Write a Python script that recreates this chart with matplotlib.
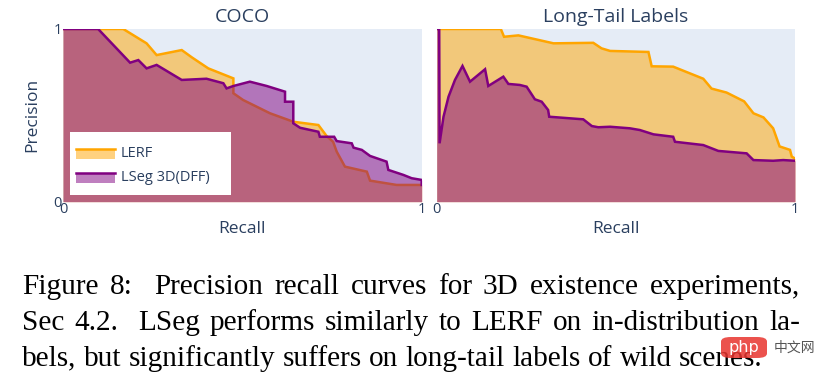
import matplotlib
matplotlib.use("Agg")
import matplotlib.pyplot as plt
from matplotlib.patches import Rectangle, FancyBboxPatch

# ---------------- data ----------------
coco_lerf_recall = [0, 0.168, 0.233, 0.261, 0.331, 0.359, 0.405, 0.475, 0.475, 0.502, 0.577,
                    0.642, 0.712, 0.735, 0.753, 0.763, 0.786, 0.847, 0.856, 0.930, 1.0]
coco_lerf_precision = [1, 1, 0.917, 0.849, 0.878, 0.836, 0.772, 0.714, 0.628, 0.589, 0.512,
                       0.463, 0.444, 0.380, 0.347, 0.29, 0.203, 0.174, 0.122, 0.097, 0.097]

coco_lseg_recall = [0, 0.098, 0.187, 0.21, 0.233, 0.261, 0.331, 0.4, 0.447, 0.456, 0.475, 0.521,
                    0.568, 0.619, 0.619, 0.642, 0.642, 0.661, 0.712, 0.716, 0.756, 0.763, 0.805,
                    0.81, 0.833, 0.856, 0.902, 0.907, 0.949, 0.972, 1.0, 1.0]
coco_lseg_precision = [1, 1, 0.805, 0.82, 0.772, 0.792, 0.705, 0.712, 0.686, 0.656, 0.67, 0.695,
                       0.67, 0.637, 0.579, 0.579, 0.454, 0.428, 0.405, 0.376, 0.376, 0.351, 0.338,
                       0.313, 0.30, 0.265, 0.232, 0.184, 0.155, 0.136, 0.126, 0.097]

lt_lerf_recall = [0, 0.179, 0.188, 0.228, 0.326, 0.437, 0.46, 0.484, 0.591, 0.600, 0.660, 0.744,
                  0.767, 0.809, 0.858, 0.884, 0.912, 0.939, 0.957, 0.986, 0.991, 1.0]
lt_lerf_precision = [1, 1, 0.955, 0.963, 0.917, 0.92, 0.888, 0.873, 0.867, 0.784, 0.782, 0.712,
                     0.655, 0.632, 0.581, 0.512, 0.488, 0.425, 0.32, 0.30, 0.261, 0.25]

lt_lseg_recall = [0, 0.007, 0.008, 0.019, 0.033, 0.051, 0.072, 0.093, 0.135, 0.144, 0.186, 0.2,
                  0.232, 0.251, 0.274, 0.293, 0.311, 0.314, 0.409, 0.433, 0.451, 0.484, 0.539,
                  0.567, 0.605, 0.660, 0.665, 0.744, 0.786, 0.865, 0.884, 0.939, 0.967, 1.0]
lt_lseg_precision = [1, 1, 0.338, 0.492, 0.608, 0.705, 0.786, 0.695, 0.767, 0.67, 0.724, 0.682,
                     0.676, 0.666, 0.593, 0.579, 0.531, 0.492, 0.477, 0.438, 0.431, 0.434, 0.425,
                     0.415, 0.39, 0.376, 0.347, 0.328, 0.294, 0.28, 0.241, 0.237, 0.241, 0.237]

panel_titles = ["COCO", "Long-Tail Labels"]
series_names = ["LERF", "LSeg 3D(DFF)"]
tick_labels = ["0", "1"]
x_label = "Recall"
y_label = "Precision"
caption_lines = [
    "Figure 8:  Precision recall curves for 3D existence experiments,",
    "Sec 4.2.  LSeg performs similarly to LERF on in-distribution la-",
    "bels, but significantly suffers on long-tail labels of wild scenes.",
]

# ---------------- style ----------------
W, H = 824, 381
FONT = "Open Sans"
TXT = "#2a3f5f"
BG = "#E5ECF6"
ORANGE = "#FFA500"
PURPLE = "#800080"
SERIF = "Liberation Serif"

fig = plt.figure(figsize=(W / 100, H / 100), dpi=100)
fig.patch.set_facecolor("white")


def fx(px):
    return px / W


def fy(py):
    return 1 - py / H


ax_l = fig.add_axes([fx(63), fy(201.7), fx(358.7), (201.7 - 29) / H])
ax_r = fig.add_axes([fx(436.7), fy(201.7), fx(358.3), (201.7 - 29) / H])

panels = [
    (ax_l, coco_lerf_recall, coco_lerf_precision, coco_lseg_recall, coco_lseg_precision),
    (ax_r, lt_lerf_recall, lt_lerf_precision, lt_lseg_recall, lt_lseg_precision),
]

for i, (ax, r1, p1, r2, p2) in enumerate(panels):
    ax.set_facecolor(BG)
    ax.fill_between(r1, p1, 0, color=ORANGE, alpha=0.5, lw=0, zorder=1)
    ax.plot(r1, p1, color=ORANGE, lw=1.8, zorder=2, solid_joinstyle="miter")
    ax.fill_between(r2, p2, 0, color=PURPLE, alpha=0.5, lw=0, zorder=3)
    ax.plot(r2, p2, color=PURPLE, lw=1.8, zorder=4, solid_joinstyle="miter")
    ax.set_xlim(0, 1)
    ax.set_ylim(0, 1)
    for s in ax.spines.values():
        s.set_visible(False)
    ax.set_xticks([0, 1])
    ax.set_xticklabels(tick_labels, fontsize=10.5, color=TXT, family=FONT)
    ax.tick_params(axis="x", length=0, pad=0)
    ax.tick_params(axis="y", length=0, pad=1)
    if i == 0:
        ax.set_yticks([0, 1])
        ax.set_yticklabels(tick_labels, fontsize=10.5, color=TXT, family=FONT)
        ax.set_ylabel(y_label, fontsize=12.5, color=TXT, family=FONT, labelpad=9)
    else:
        ax.set_yticks([])
    ax.set_xlabel(x_label, fontsize=12.5, color=TXT, family=FONT, labelpad=3)
    ax.set_title(panel_titles[i], fontsize=14, color=TXT, family=FONT, pad=5)

# ---------------- legend (plotly style) ----------------
fig.patches.append(Rectangle((fx(70), fy(194.5)), fx(161), (194.5 - 132) / H,
                             transform=fig.transFigure, facecolor="white",
                             edgecolor="none", zorder=10))
leg_items = [(series_names[0], ORANGE, 148.5), (series_names[1], PURPLE, 172.5)]
for name, col, ytop in leg_items:
    fig.patches.append(Rectangle((fx(76), fy(ytop + 10)), fx(39), 10 / H,
                                 transform=fig.transFigure, facecolor=col, alpha=0.5,
                                 edgecolor="none", zorder=11))
    fig.lines.append(plt.Line2D([fx(76), fx(115)], [fy(ytop), fy(ytop)],
                                transform=fig.transFigure, color=col, lw=1.8, zorder=12))
    fig.text(fx(121), fy(ytop + 5), name, fontsize=10.5, color=TXT, family=FONT,
             va="center", ha="left", zorder=13)

# ---------------- caption (justified, wider space after sentences) ----------------
fig.canvas.draw()
renderer = fig.canvas.get_renderer()
cap_left, cap_right = 22, 800
baselines = [294.5, 330, 365.5]

probe_size = 20.0
probe = fig.text(0, 0, caption_lines[2], fontsize=probe_size, family=SERIF)
nat_w = probe.get_window_extent(renderer).width
probe.remove()
cap_size = probe_size * (762 - cap_left) / nat_w

sp = fig.text(0, 0, "a a", fontsize=cap_size, family=SERIF)
aa = fig.text(0, 0, "aa", fontsize=cap_size, family=SERIF)
nat_space = sp.get_window_extent(renderer).width - aa.get_window_extent(renderer).width
sp.remove()
aa.remove()

for li, (line, base) in enumerate(zip(caption_lines, baselines)):
    parts = line.split(" ")
    words, weights = [], []
    for p in parts:
        if p == "":
            if weights:
                weights[-1] += 1.0
            continue
        words.append(p)
        weights.append(1.0)
    weights = weights[:-1]
    objs = [fig.text(0, fy(base), w, fontsize=cap_size, family=SERIF,
                     color="black", va="baseline", ha="left") for w in words]
    widths = [t.get_window_extent(renderer).width for t in objs]
    if li < len(caption_lines) - 1:
        unit = (cap_right - cap_left - sum(widths)) / sum(weights)
    else:
        unit = nat_space
    x = cap_left
    for k, (t, wdt) in enumerate(zip(objs, widths)):
        t.set_x(fx(x))
        if k < len(weights):
            x += wdt + unit * weights[k]

# ---------------- watermark ----------------
fig.patches.append(FancyBboxPatch((fx(721), fy(358)), fx(46), 21 / H,
                                  boxstyle="round,pad=0,rounding_size=0.012",
                                  transform=fig.transFigure, facecolor="#E8342E",
                                  edgecolor="none", alpha=0.85, zorder=20))
fig.text(fx(744), fy(347.5), "php", fontsize=11.5, color="white", family="DejaVu Sans",
         ha="center", va="center", zorder=21)
fig.text(fx(774), fy(347.5), "中文网", fontsize=10, color="#555555",
         family=["Noto Sans CJK SC", "DejaVu Sans"], ha="left", va="center", zorder=21)

fig.savefig("out.png", dpi=100, facecolor="white")
